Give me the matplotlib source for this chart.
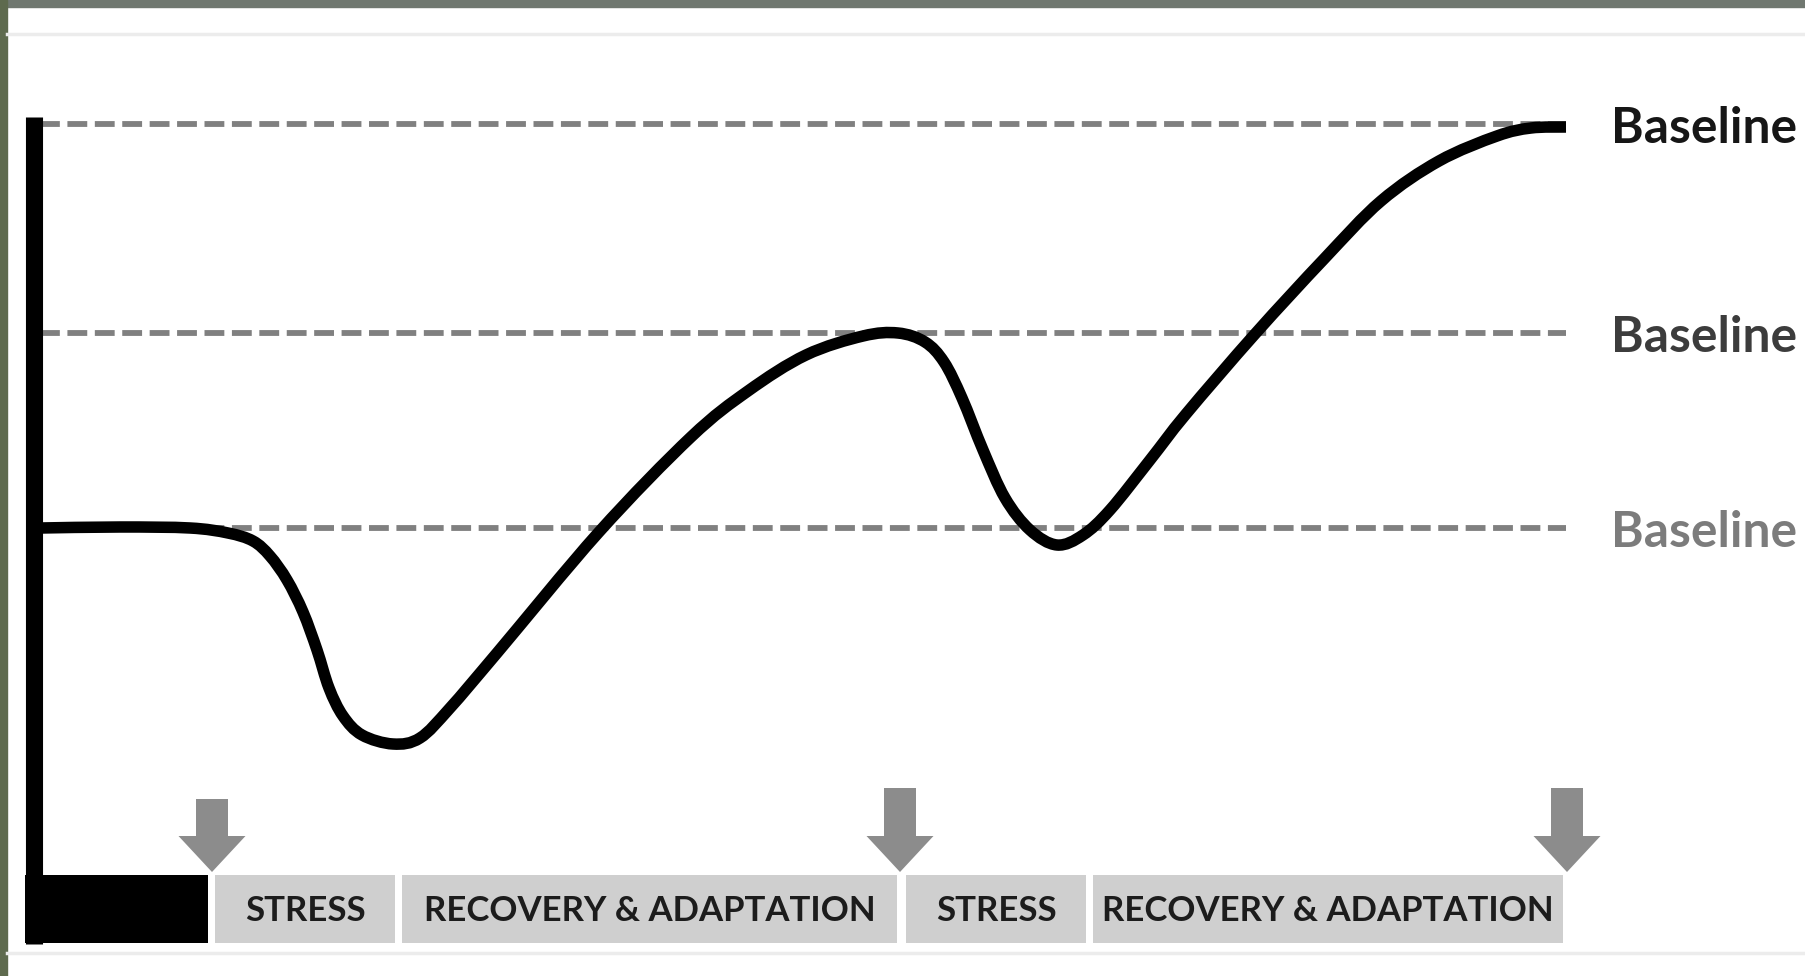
import matplotlib.pyplot as plt
from matplotlib.patches import FancyArrow, Rectangle, PathPatch
from matplotlib.path import Path

# curve (x to the right, y downward, in image pixels)
curve_x = [41, 120, 190, 228, 253, 270, 287, 303, 317, 329, 343, 362, 393, 420, 450, 497,
           599, 691, 748, 806, 863, 898, 925, 944, 962, 983, 1005, 1030, 1057, 1083, 1110,
           1150, 1186, 1255, 1324, 1381, 1439, 1497, 1531, 1566]
curve_y = [528, 527, 528, 533, 541, 556, 580, 612, 650, 688, 716, 735, 744, 738, 708, 653,
           532, 437, 391, 355, 336, 333, 342, 362, 398, 450, 498, 530, 545, 535, 510,
           460, 414, 334, 259, 201, 161, 136, 128, 127]

baseline_y = [124, 333, 528]
baseline_colors = ['#161616', '#3c3c3c', '#7c7c7c']

phase_labels = ['', 'STRESS', 'RECOVERY & ADAPTATION', 'STRESS', 'RECOVERY & ADAPTATION']
phase_start = [25, 215, 402, 906, 1093]
phase_end = [208, 395, 897, 1086, 1563]

arrow_x = [212, 900, 1567]
arrow_top = [799, 788, 788]
arrow_tip = 872


def smooth_path(xs, ys):
    # bezier segments through every point (catmull-rom tangents)
    pts = list(zip(xs, ys))
    verts = [pts[0]]
    codes = [Path.MOVETO]
    n = len(pts)
    for i in range(n - 1):
        p0 = pts[max(i - 1, 0)]
        p1 = pts[i]
        p2 = pts[i + 1]
        p3 = pts[min(i + 2, n - 1)]
        c1 = (p1[0] + (p2[0] - p0[0]) / 6, p1[1] + (p2[1] - p0[1]) / 6)
        c2 = (p2[0] - (p3[0] - p1[0]) / 6, p2[1] - (p3[1] - p1[1]) / 6)
        verts += [c1, c2, p2]
        codes += [Path.CURVE4] * 3
    return Path(verts, codes)


fig = plt.figure(figsize=(18.05, 9.76), dpi=100)
ax = fig.add_axes([0, 0, 1, 1])
ax.set_xlim(0, 1805)
ax.set_ylim(976, 0)
ax.axis('off')

# photo frame edges and panel rules
ax.add_patch(Rectangle((0, 0), 1805, 7, color='#707870', zorder=0))
ax.add_patch(Rectangle((0, 0), 7, 976, color='#5e6a4e', zorder=0))
ax.plot([7, 1805], [34, 34], color='#ececec', lw=2.5, zorder=0)
ax.plot([7, 1805], [953, 953], color='#ececec', lw=2.5, zorder=0)

# dashed baselines + labels
for yb, c in zip(baseline_y, baseline_colors):
    ax.plot([40, 1566], [yb, yb], color='#808080', lw=4.2,
            dashes=(3.4, 1.3), zorder=1)
    ax.text(1611, yb + 19, 'Baseline', family='Lato', weight='bold',
            fontsize=35.8, color=c, va='baseline', ha='left')

# the curve
ax.add_patch(PathPatch(smooth_path(curve_x, curve_y), facecolor='none',
                       edgecolor='black', lw=8.3, joinstyle='round',
                       capstyle='butt', zorder=3))

# vertical axis
ax.plot([33.5, 33.5], [117, 944], color='black', lw=12.3, solid_capstyle='butt', zorder=4)

# phase bar
for lab, s, e in zip(phase_labels, phase_start, phase_end):
    col = 'black' if lab == '' else '#cfcfcf'
    ax.bar(s, 68, width=e - s, bottom=875, align='edge', color=col, zorder=2)
    if lab:
        ax.text((s + e) / 2, 911, lab, family='Lato', weight='bold', fontsize=25,
                color='#1c1c1c', ha='center', va='center')

# arrows
for xa, ya in zip(arrow_x, arrow_top):
    ax.add_patch(FancyArrow(xa, ya, 0, arrow_tip - ya, width=32, head_width=67,
                            head_length=36, length_includes_head=True,
                            color='#8c8c8c', lw=0, zorder=2))

plt.savefig('out.png', dpi=100, facecolor='white')
